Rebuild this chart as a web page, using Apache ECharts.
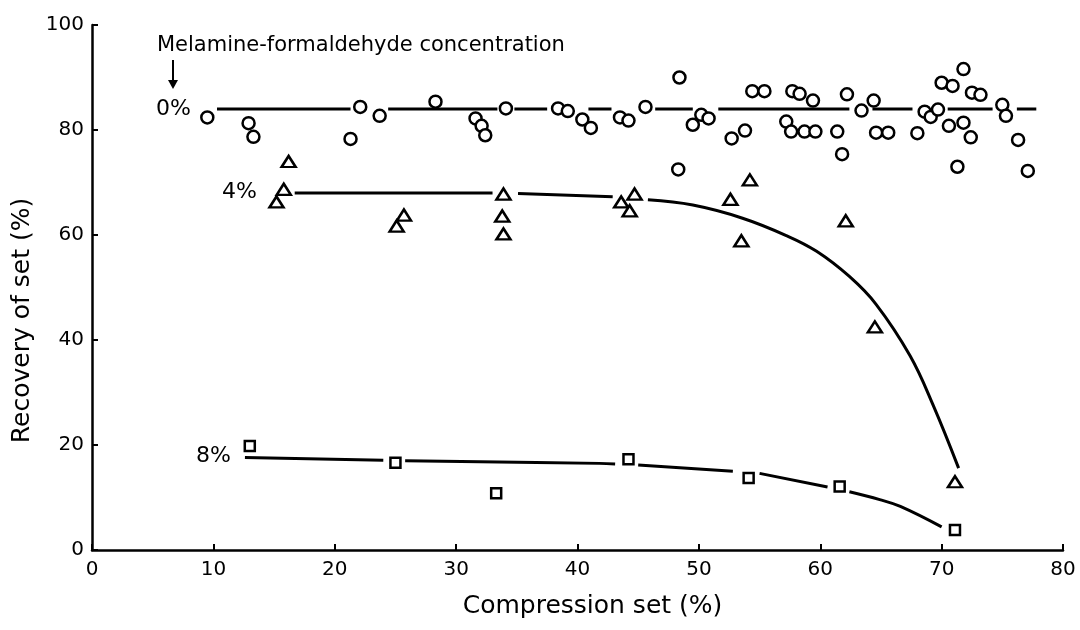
<!DOCTYPE html>
<html>
<head>
<meta charset="utf-8">
<script src="https://cdn.jsdelivr.net/npm/echarts@6/dist/echarts.min.js"></script>
<style>
  html, body { margin: 0; padding: 0; background: #fff; }
  #main { width: 1080px; height: 630px; }
</style>
</head>
<body>
<div id="main"></div>
<script>
// 0% melamine-formaldehyde: circles
const circles0 = [
  [9.5, 82.4], [12.9, 81.3], [13.3, 78.7], [21.3, 78.3], [22.1, 84.4], [23.7, 82.7],
  [28.3, 85.4], [31.6, 82.2], [32.1, 80.8], [32.4, 79.0], [34.1, 84.1], [38.4, 84.1],
  [39.2, 83.6], [40.4, 82.0], [41.1, 80.4], [43.5, 82.4], [44.2, 81.8], [45.6, 84.4],
  [48.4, 90.0], [48.3, 72.5], [49.5, 81.0], [50.2, 82.9], [50.8, 82.2], [52.7, 78.4],
  [53.8, 79.9], [54.4, 87.4], [55.4, 87.4], [57.7, 87.4], [58.3, 86.9], [57.2, 81.6],
  [59.4, 85.6], [57.6, 79.7], [58.7, 79.7], [59.6, 79.7], [61.4, 79.7], [61.8, 75.4],
  [62.2, 86.8], [63.4, 83.7], [64.4, 85.6], [64.6, 79.5], [65.6, 79.5], [68.0, 79.4],
  [68.6, 83.5], [69.1, 82.5], [69.7, 83.9], [70.0, 89.0], [70.9, 88.4], [71.8, 91.6],
  [70.6, 80.8], [71.8, 81.4], [71.3, 73.0], [72.4, 78.6], [72.5, 87.1], [73.2, 86.7],
  [75.0, 84.8], [75.3, 82.7], [76.3, 78.1], [77.1, 72.2]
];
// 4%: triangles
const triangles4 = [
  [16.2, 74.0], [15.8, 68.7], [15.2, 66.3], [25.7, 63.8], [25.1, 61.7],
  [33.9, 67.8], [33.8, 63.6], [33.9, 60.2], [43.6, 66.3], [44.7, 67.8], [44.3, 64.6],
  [52.6, 66.8], [54.2, 70.5], [53.5, 58.9], [62.1, 62.7], [64.5, 42.5], [71.1, 13.0]
];
// 8%: squares
const squares8 = [
  [13.0, 19.8], [25.0, 16.6], [33.3, 10.8], [44.2, 17.3], [54.1, 13.7], [61.6, 12.1], [71.1, 3.8]
];

// fitted curves (gaps drawn as breaks)
const GAP = ['-', '-'];
const fit0 = [
  [10.3, 84], [21.3, 84], GAP, [24.4, 84], [33.4, 84], GAP, [34.8, 84], [37.5, 84], GAP,
  [40.9, 84], [42.8, 84], GAP, [46.4, 84], [49.5, 84], GAP, [51.6, 84], [62.4, 84], GAP,
  [64.3, 84], [67.6, 84], GAP, [70.5, 84], [74.2, 84], GAP, [76.2, 84], [77.8, 84]
];
const fit4 = [
  [16.7, 68.0], [33.0, 68.0], GAP, [35.1, 67.9], [42.9, 67.3], GAP,
  [45.8, 66.7], [49.5, 65.7], [53.6, 63.2], [57.2, 59.9], [59.7, 56.9], [62.4, 52.1],
  [64.6, 46.8], [67.4, 37.0], [69.3, 27.6], [71.4, 15.6]
];
const fit8 = [
  [12.6, 17.6], [24.0, 17.1], GAP, [25.8, 17.0], [41.8, 16.5], [43.1, 16.4], GAP,
  [45.0, 16.2], [52.8, 15.0], GAP, [55.0, 14.6], [60.6, 12.0], GAP,
  [62.4, 11.1], [64.9, 9.6], [66.6, 8.3], [70.0, 4.4]
];

const xTicks = [0, 10, 20, 30, 40, 50, 60, 70, 80];
const yTicks = [0, 20, 40, 60, 80, 100];

const FONT = "DejaVu Sans";
const myChart = echarts.init(document.getElementById("main"));

const markerStyle = { color: "#fff", borderColor: "#000", borderWidth: 2.5, opacity: 1 };
const lineStyle = { color: "#000", width: 3 };

myChart.setOption({
  animation: false,
  backgroundColor: "#fff",
  textStyle: { fontFamily: FONT, color: "#000" },
  grid: { left: 92, right: 17, top: 25, bottom: 80 },
  xAxis: {
    type: "value",
    min: xTicks[0],
    max: xTicks[xTicks.length - 1],
    interval: 10,
    name: "Compression set (%)",
    nameLocation: "middle",
    nameGap: 44,
    nameTextStyle: { fontSize: 25, color: "#000", fontFamily: FONT, padding: [0, 0, 0, 30] },
    axisLine: { lineStyle: { color: "#000", width: 2.5 } },
    axisTick: { inside: true, length: 6, lineStyle: { color: "#000", width: 2 } },
    axisLabel: { fontSize: 20, color: "#000", margin: 10, fontFamily: FONT },
    splitLine: { show: false },
  },
  yAxis: {
    type: "value",
    min: yTicks[0],
    max: yTicks[yTicks.length - 1],
    interval: 20,
    name: "Recovery of set (%)",
    nameLocation: "middle",
    nameGap: 47,
    nameTextStyle: { fontSize: 25, color: "#000", fontFamily: FONT, padding: [0, 0, 0, -66] },
    axisLine: { lineStyle: { color: "#000", width: 2.5 } },
    axisTick: { inside: true, length: 6, lineStyle: { color: "#000", width: 2 } },
    axisLabel: { fontSize: 20, color: "#000", margin: 8, fontFamily: FONT },
    splitLine: { show: false },
  },
  series: [
    { type: "line", data: fit0, showSymbol: false, connectNulls: false, lineStyle: lineStyle, z: 1 },
    { type: "line", data: fit4, smooth: 0.4, showSymbol: false, connectNulls: false, lineStyle: lineStyle, z: 1 },
    { type: "line", data: fit8, smooth: 0.4, showSymbol: false, connectNulls: false, lineStyle: lineStyle, z: 1 },
    { type: "scatter", data: circles0, symbol: "circle", symbolSize: 12, itemStyle: markerStyle, z: 3 },
    { type: "scatter", data: triangles4, symbol: "triangle", symbolSize: [14, 11], itemStyle: markerStyle, z: 3 },
    { type: "scatter", data: squares8, symbol: "rect", symbolSize: 10, itemStyle: markerStyle, z: 3 },
  ],
  graphic: [
    { type: "text", left: 157, top: 35, style: { text: "Melamine-formaldehyde concentration", font: "21px " + FONT, fill: "#000" } },
    { type: "line", shape: { x1: 173, y1: 60, x2: 173, y2: 84 }, style: { stroke: "#000", lineWidth: 2 } },
    { type: "polygon", shape: { points: [[168, 80], [178, 80], [173, 89]] }, style: { fill: "#000" } },
    { type: "text", left: 156, top: 98, style: { text: "0%", font: "22px " + FONT, fill: "#000" } },
    { type: "text", left: 222, top: 181, style: { text: "4%", font: "22px " + FONT, fill: "#000" } },
    { type: "text", left: 196, top: 445, style: { text: "8%", font: "22px " + FONT, fill: "#000" } },
  ],
});

window.addEventListener("resize", function () {
  myChart.resize();
});
</script>
</body>
</html>
